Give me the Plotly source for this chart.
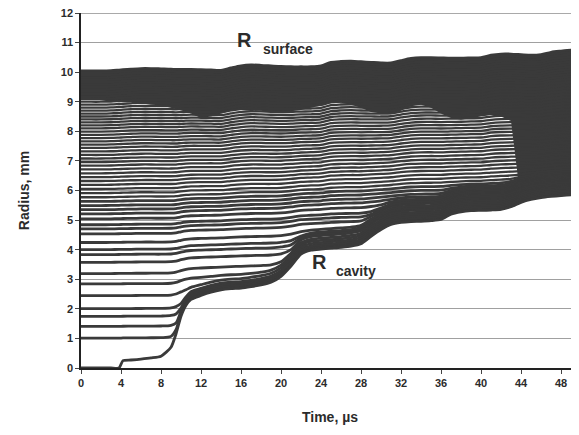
import numpy as np
import plotly.graph_objects as go

# ---------------- data ----------------
TIME = [0, 1, 2, 3, 3.8, 4.2, 5, 6, 7, 8, 9, 9.5, 10, 10.5, 11, 12, 13, 14, 15, 16,
        17, 18, 19, 20, 21, 22, 23, 24, 25, 26, 27, 28, 29, 30, 31, 32, 33, 34, 35,
        36, 37, 38, 39, 40, 41, 42, 43, 44, 45, 46, 47, 48, 49, 49.8]

R_CAVITY = [0, 0, 0, 0, 0, 0.25, 0.27, 0.30, 0.34, 0.40, 0.70, 1.15, 1.75, 2.12, 2.32,
            2.45, 2.56, 2.64, 2.68, 2.70, 2.75, 2.81, 2.90, 3.10, 3.45, 3.85, 3.98, 4.02,
            4.05, 4.08, 4.12, 4.20, 4.45, 4.68, 4.85, 4.92, 4.95, 4.96, 4.98, 5.02, 5.20,
            5.28, 5.32, 5.33, 5.34, 5.36, 5.45, 5.60, 5.70, 5.76, 5.80, 5.83, 5.85, 5.85]

R_SURFACE = [10.05, 10.05, 10.05, 10.06, 10.08, 10.09, 10.11, 10.13, 10.13, 10.12, 10.11,
             10.10, 10.10, 10.10, 10.10, 10.09, 10.08, 10.07, 10.15, 10.22, 10.25, 10.24,
             10.22, 10.20, 10.19, 10.19, 10.19, 10.22, 10.34, 10.37, 10.38, 10.36, 10.34,
             10.32, 10.32, 10.40, 10.47, 10.50, 10.50, 10.49, 10.48, 10.48, 10.49, 10.50,
             10.58, 10.62, 10.62, 10.60, 10.58, 10.60, 10.68, 10.72, 10.75, 10.75]

# lower edge of the solid (fully merged) outer layer
R_SOLID = [9.10, 9.10, 9.05, 9.00, 9.00, 9.00, 8.98, 8.95, 8.90, 8.88, 8.80, 8.76, 8.72,
           8.66, 8.60, 8.45, 8.50, 8.60, 8.70, 8.72, 8.72, 8.70, 8.65, 8.65, 8.68, 8.72,
           8.80, 8.88, 8.95, 8.97, 8.90, 8.80, 8.65, 8.60, 8.58, 8.70, 8.85, 8.90, 8.80,
           8.60, 8.45, 8.40, 8.45, 8.52, 8.55, 8.50, 8.35, 5.60, 5.70, 5.76, 5.80, 5.83,
           5.85, 5.85]

# initial radii (mm) of the Lagrangian lines at t = 0
R_INITIAL = [1.00, 1.40, 1.74, 2.00, 2.44, 2.84, 3.19, 3.57, 3.83, 4.00, 4.24, 4.53,
             4.70, 4.84, 5.04, 5.21, 5.35, 5.49, 5.63, 5.77, 5.91, 6.05, 6.19, 6.32,
             6.45, 6.58, 6.71, 6.84, 6.96, 7.08, 7.20, 7.32, 7.44, 7.55, 7.66, 7.77,
             7.88, 7.99, 8.10, 8.20, 8.30, 8.40, 8.50, 8.60, 8.70, 8.80, 8.90, 9.00,
             9.10, 9.18, 9.26, 9.34, 9.42, 9.50, 9.58, 9.66, 9.74, 9.82, 9.90, 9.98, 10.05]

X_TICKS = list(range(0, 49, 4))
Y_TICKS = list(range(0, 13))

# ---------------- model parameters ----------------
C_BAND = 0.3      # compression of material swept onto the cavity wall
KAPPA = 0.2       # share of cavity area pushed outward
EPS = 0.12

t = np.array(TIME)
rc = np.array(R_CAVITY)
rs = np.array(R_SURFACE)
rs0 = rs[0]
gamma = KAPPA * rc ** 2
corr = rs - np.sqrt(rs0 ** 2 + gamma)


def line_radius(r0):
    r_in = np.sqrt(rc ** 2 + C_BAND * r0 ** 2)
    r_out = np.sqrt(r0 ** 2 + gamma) + corr * (r0 / rs0) ** 2
    return 0.5 * (r_in + r_out + np.sqrt((r_in - r_out) ** 2 + EPS ** 2))


DARK = "#3a3a3a"
fig = go.Figure()

# solid merged outer layer
fig.add_trace(go.Scatter(
    x=list(t) + list(t[::-1]),
    y=list(R_SOLID) + list(rs[::-1]),
    fill="toself", fillcolor=DARK, line=dict(width=0), mode="lines",
    hoverinfo="skip", showlegend=False))

for r0 in R_INITIAL:
    w = 2.8 if r0 < 5.7 else 2.3
    fig.add_trace(go.Scatter(
        x=t, y=line_radius(r0), mode="lines",
        line=dict(color=DARK, width=w, shape="spline", smoothing=0.8),
        hoverinfo="skip", showlegend=False))

# cavity wall
fig.add_trace(go.Scatter(
    x=t, y=rc, mode="lines",
    line=dict(color=DARK, width=2.8, shape="spline", smoothing=0.6),
    hoverinfo="skip", showlegend=False))

TXT = "#2b2b2b"
ann = [
    dict(x=16.3, y=11.09, text="<b>R</b>", size=20),
    dict(x=20.7, y=10.79, text="<b>surface</b>", size=14),
    dict(x=23.8, y=3.59, text="<b>R</b>", size=20),
    dict(x=27.5, y=3.29, text="<b>cavity</b>", size=14),
]
for a in ann:
    fig.add_annotation(x=a["x"], y=a["y"], text=a["text"], showarrow=False,
                       xref="x", yref="y",
                       font=dict(family="Liberation Sans, Arial", size=a["size"], color=TXT))

fig.add_shape(type="line", xref="paper", yref="y", x0=0, x1=1, y0=12, y1=12,
              line=dict(color="#555555", width=1))

# page body has an 8 px margin: size the figure so the plot area lands where the reference's does
fig.update_layout(
    width=571, height=427,
    margin=dict(l=73, r=0, t=5, b=67),
    paper_bgcolor="white", plot_bgcolor="white",
    font=dict(family="Liberation Sans, Arial", color=TXT),
    xaxis=dict(range=[0, 49.8], tickvals=X_TICKS, automargin=False,
               ticktext=[f"<b>{v}</b>" for v in X_TICKS], ticklabeloverflow="allow",
               tickfont=dict(size=11), showgrid=False, zeroline=False,
               showline=True, linecolor="#222", linewidth=1.5,
               ticks="outside", ticklen=4, tickcolor="#444",
               title=dict(text="<b>Time, µs</b>", font=dict(size=14), standoff=24)),
    yaxis=dict(range=[0, 12], tickvals=Y_TICKS, automargin=False,
               ticktext=[f"<b>{v}</b>" for v in Y_TICKS], ticklabeloverflow="allow",
               tickfont=dict(size=11), showgrid=True, gridcolor="#a0a0a0", gridwidth=1,
               zeroline=False, showline=True, linecolor="#222", linewidth=1.5,
               ticks="outside", ticklen=4, tickcolor="#444",
               title=dict(text="<b>Radius, mm</b>", font=dict(size=14), standoff=28)),
)

fig.write_html("out.html")
